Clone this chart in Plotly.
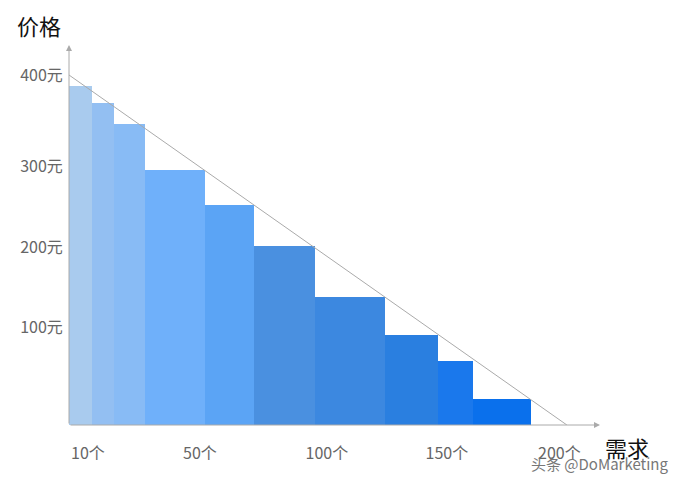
import plotly.graph_objects as go

# bar edges along demand axis and bar heights (price)
edges = [0, 9.2, 18.1, 30.5, 54.6, 74.3, 98.8, 126.9, 148.2, 162.2, 185.5]
prices = [387, 368, 344, 291, 251, 205, 146, 103, 73, 30]
colors = ["#a9cbee", "#93bff2", "#88bbf5", "#6fb0fa", "#5ba4f5",
          "#4a90e0", "#3c88e0", "#2a7fe0", "#1a78ec", "#0a70ec"]

y_tickvals = [112, 203, 295, 400]
y_ticktext = ["100元", "200元", "300元", "400元"]
x_tickvals = [7.6, 52.6, 103.6, 151.8, 197]
x_ticktext = ["10个", "50个", "100个", "150个", "200个"]

centers = [(a + b) / 2 for a, b in zip(edges[:-1], edges[1:])]
widths = [b - a for a, b in zip(edges[:-1], edges[1:])]

fig = go.Figure()
fig.add_trace(go.Bar(x=centers, y=prices, width=widths,
                     marker=dict(color=colors, line=dict(width=0))))
fig.add_trace(go.Scatter(x=[0, 200], y=[400, 0], mode="lines",
                         line=dict(color="#aaaaaa", width=1)))

font = "Noto Sans CJK SC"
# page body adds ~8px offset, so margins are shifted to compensate
fig.update_layout(
    width=683, height=486, showlegend=False,
    plot_bgcolor="white", paper_bgcolor="white",
    margin=dict(l=61, r=91, t=37, b=69, autoexpand=False),
    font=dict(family=font, color="#666666", size=16),
    xaxis=dict(range=[0, 213.3], showgrid=False, zeroline=False,
               tickvals=x_tickvals, ticktext=x_ticktext,
               ticks="outside", ticklen=14, tickcolor="rgba(0,0,0,0)"),
    yaxis=dict(range=[0, 434.3], showgrid=False, zeroline=False,
               tickvals=y_tickvals, ticktext=y_ticktext,
               ticks="outside", ticklen=2, tickcolor="rgba(0,0,0,0)"),
    bargap=0,
)

# axis arrows
for x, y in [(213.3, 0), (0, 434.3)]:
    fig.add_annotation(x=x, y=y, ax=0, ay=0, xref="x", yref="y", axref="x", ayref="y",
                       showarrow=True, arrowhead=2, arrowsize=1.2, arrowwidth=1,
                       arrowcolor="#aaaaaa", text="")

fig.add_annotation(text="价格", xref="paper", yref="paper", x=-54 / 531, y=1 + 20 / 380,
                   xanchor="left", yanchor="middle", showarrow=False,
                   font=dict(size=22, color="#111111", family=font))
fig.add_annotation(text="需求", xref="paper", yref="paper", x=1 + 3 / 531, y=-22 / 380,
                   xanchor="left", yanchor="middle", showarrow=False,
                   font=dict(size=22, color="#111111", family=font))
fig.add_annotation(text="头条 @DoMarketing", xref="paper", yref="paper",
                   x=1 + 70 / 531, y=-38 / 380, xanchor="right", yanchor="middle",
                   showarrow=False, font=dict(size=15, color="#777777", family=font))

fig.write_html("out.html")
